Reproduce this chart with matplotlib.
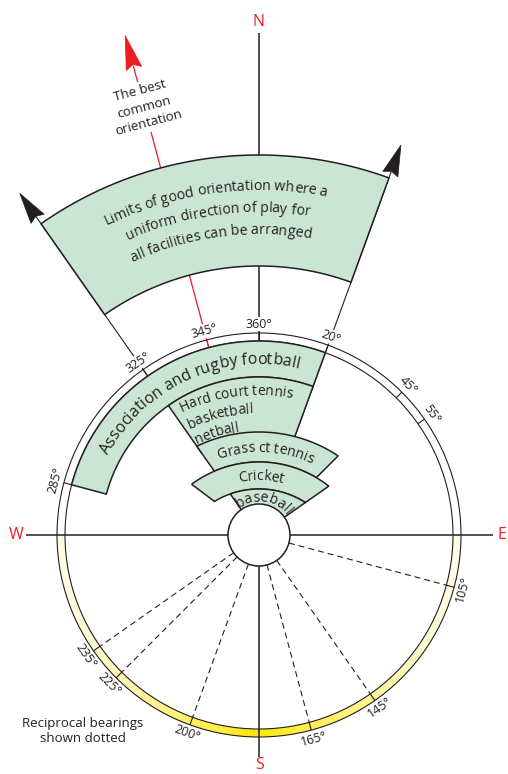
import numpy as np
import matplotlib
matplotlib.use('Agg')
import matplotlib.pyplot as plt
from matplotlib.patches import Polygon, Circle, Wedge
from matplotlib.font_manager import FontProperties, findfont, get_font
from matplotlib.ft2font import LoadFlags

plt.rcParams['font.family'] = ['Open Sans', 'DejaVu Sans']

INK = '#231f20'
RED = '#ed1c24'
GREEN = '#cbe5d4'

# ---- data: bearings in degrees, clockwise from north ----
cardinals = ['N', 'E', 'S', 'W']
cardinal_bearings = [0, 90, 180, 270]

facilities = ['Association and rugby football',
              'Hard court tennis\nbasketball\nnetball',
              'Grass ct tennis', 'Cricket', 'baseball']
fac_start = [285, 325, 325, 307, 325]
fac_end = [20, 20, 45, 55, 55]

limits_text = ['Limits of good orientation where a',
               'uniform direction of play for',
               'all facilities can be arranged']
limits_start, limits_end = 325, 20
best_bearing = 345
best_text = 'The best\ncommon\norientation'

ring_labels = [285, 325, 345, 360, 20, 45, 55]
reciprocal = [105, 145, 165, 200, 225, 235]
note_text = 'Reciprocal bearings\nshown dotted'

# ---- layout (pixels, compass centre at origin) ----
R_HUB, R_IN, R_OUT, R_LAB = 31, 194, 202, 211
DROP = 40   # inner bands are drawn flatter, about a centre lower down
fac_r = [(158, 194, 0), (100, 158, 0), (113, 143, DROP), (86, 113, DROP), (60, 86, DROP)]

fig = plt.figure(figsize=(5.08, 7.74), dpi=100)
ax = fig.add_axes([0, 0, 1, 1])
ax.set_xlim(-259, 249)
ax.set_ylim(-239, 535)
ax.set_aspect('equal')
ax.axis('off')


def pt(b, r, drop=0):
    a = np.radians(b)
    return r * np.sin(a), r * np.cos(a) - drop


def reach(b, R, drop):
    # distance from the compass centre along bearing b to a circle of radius R centred `drop` below
    a = np.radians(b)
    return -drop * np.cos(a) + np.sqrt(R ** 2 - (drop * np.sin(a)) ** 2)


def band(b0, b1, r_in, r_out, drop=0, **kw):
    if b1 < b0:
        b1 += 360
    bs = np.linspace(b0, b1, 150)
    outer = [pt(b, reach(b, r_out, drop)) for b in bs]
    inner = [pt(b, reach(b, r_in, drop)) for b in bs[::-1]]
    ax.add_patch(Polygon(outer + inner, closed=True, **kw))


def ray(b, r0, r1, **kw):
    x0, y0 = pt(b, r0)
    x1, y1 = pt(b, r1)
    ax.plot([x0, x1], [y0, y1], solid_capstyle='butt', **kw)


def dart(b, r_tip, length, width, notch, color, z):
    a = np.radians(b)
    u = np.array([np.sin(a), np.cos(a)])
    v = np.array([np.cos(a), -np.sin(a)])
    base = (r_tip - length) * u
    pts = [r_tip * u, base + width / 2 * v, base + notch * length * u, base - width / 2 * v]
    ax.add_patch(Polygon(pts, closed=True, fc=color, ec=color, lw=0.5, zorder=z))


def arc_text(s, r, b_mid, size, drop=0, align='center'):
    fp = FontProperties(family=['Open Sans'], size=size)
    font = get_font(findfont(fp))
    font.set_size(size, 100)
    pen, centres = 0.0, []
    for ch in s:
        g = font.load_char(ord(ch), flags=LoadFlags.NO_HINTING)
        centres.append(pen + (g.bbox[0] + g.bbox[2]) / 128)
        pen += g.linearHoriAdvance / 65536
    for ch, c in zip(s, centres):
        if ch == ' ':
            continue
        d = c - pen / 2 if align == 'center' else c
        ang = b_mid + np.degrees(d / r)
        x, y = pt(ang, r, drop)
        ax.text(x, y, ch, rotation=-ang, rotation_mode='anchor', ha='center', va='baseline',
                fontproperties=fp, color=INK, zorder=10)


# compass axes
ray(0, R_HUB, 502, color=INK, lw=1.1, zorder=3)
ray(180, R_HUB, 222, color=INK, lw=1.1, zorder=3)
ray(90, R_HUB, 234, color=INK, lw=1.1, zorder=3)
ray(270, R_HUB, 233, color=INK, lw=1.1, zorder=3)
for lab, b, r in zip(cardinals, cardinal_bearings, [513, 243, 230, 243]):
    x, y = pt(b, r)
    ax.text(x, y, lab, color=RED, fontsize=11.5, ha='center', va='center', zorder=10)

# outer ring: white to the north, yellow shading to the south
pale = np.array([1.0, 0.992, 0.90])
bright = np.array([1.0, 0.90, 0.0])
for b in np.arange(90, 270, 1.0):
    t = 1 - abs(b + 0.5 - 180) / 90
    c = pale + (bright - pale) * t ** 2.2
    ax.add_patch(Wedge((0, 0), R_OUT, 90 - b - 1.05, 90 - b, width=R_OUT - R_IN,
                       fc=c, ec='none', zorder=1))
for r in (R_IN, R_OUT):
    ax.add_patch(Circle((0, 0), r, fill=False, ec=INK, lw=0.8, zorder=4))

# reciprocal bearings, dotted
for b in reciprocal:
    ray(b, R_HUB, R_IN, color=INK, lw=0.8, linestyle=(0, (5.4, 3.6)), zorder=2)

# ring ticks and labels
for b in ring_labels + reciprocal:
    ray(b, R_IN, R_OUT, color=RED if b == best_bearing else INK, lw=0.8, zorder=4)
    rot = -b if (b >= 270 or b <= 90) else 180 - b
    x, y = pt(b, R_LAB)
    ax.text(x, y, f'{b}°', rotation=rot, rotation_mode='anchor', ha='center', va='center',
            fontsize=9, color=INK, zorder=8,
            bbox=dict(fc='white', ec='none', pad=0.5))

# limits of good orientation
ray(limits_start, R_IN, 389, color=INK, lw=0.8, zorder=3)
ray(limits_end, 100, 387, color=INK, lw=0.8, zorder=3)
dart(limits_start, 417, 31, 16, 0.1, INK, 7)
dart(limits_end, 415, 31, 16, 0.1, INK, 7)
band(limits_start, limits_end, 269, 380, fc=GREEN, ec=INK, lw=1.1, zorder=5)
for line, r in zip(limits_text, [345, 323, 301]):
    arc_text(line, r, 352.5, 10.2)

# best common orientation
ray(best_bearing, R_IN, 486, color=RED, lw=0.9, zorder=3)
dart(best_bearing, 517, 34, 16, 0.12, RED, 7)
x, y = pt(best_bearing, 443)
ax.text(x, y, best_text, rotation=360 - best_bearing, rotation_mode='anchor', ha='center',
        va='center', multialignment='center', fontsize=9.5, color=INK, linespacing=1.35,
        zorder=8, bbox=dict(fc='white', ec='none', pad=2))

# facility bands
for b0, b1, (r0, r1, drop) in zip(fac_start, fac_end, fac_r):
    band(b0, b1, r0, r1, drop, fc=GREEN, ec=INK, lw=1.1, zorder=6)
ax.add_patch(Circle((0, 0), R_HUB, fc='white', ec=INK, lw=1.1, zorder=7))

arc_text(facilities[0], 171, 335.5, 11.5)
for line, r in zip(facilities[1].split('\n'), [180, 162, 145]):
    arc_text(line, r, -25.5, 10, drop=DROP, align='left')
arc_text(facilities[2], 123, 3, 10, drop=DROP)
arc_text(facilities[3], 95, 1, 10, drop=DROP)
arc_text(facilities[4], 33.5, 8, 10)

ax.text(-176, -196, note_text, ha='center', va='center', fontsize=9.5, color=INK,
        linespacing=1.3, zorder=8)

fig.savefig('out.png', dpi=100)
